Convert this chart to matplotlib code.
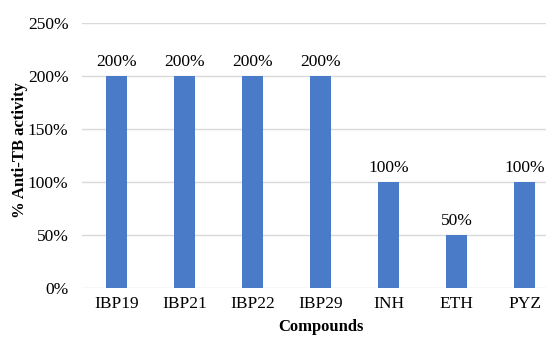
import numpy as np
import matplotlib.pyplot as plt
from matplotlib.ticker import PercentFormatter

compounds = ["IBP19", "IBP21", "IBP22", "IBP29", "INH", "ETH", "PYZ"]
activity = [200, 200, 200, 200, 100, 50, 100]  # % anti-TB activity

plt.rcParams["font.family"] = "Liberation Serif"
plt.rcParams["font.size"] = 12.5

fig = plt.figure(figsize=(5.46, 3.37), dpi=100)
ax = fig.add_axes([0.151, 0.1454, 0.872, 0.7864])

x = np.arange(len(compounds))
bars = ax.bar(x, activity, width=0.31, color="#4a7bc8", zorder=3)
for b, v in zip(bars, activity):
    ax.annotate(f"{v}%", (b.get_x() + b.get_width() / 2, v), xytext=(0, 4),
                textcoords="offset points", ha="center", va="bottom")

ax.set_xlim(-0.5, len(compounds) - 0.5)
ax.set_ylim(0, 250)
ax.set_yticks(range(0, 251, 50))
ax.yaxis.set_major_formatter(PercentFormatter(decimals=0))
ax.set_xticks(x)
ax.set_xticklabels(compounds)
ax.grid(axis="y", color="#d9d9d9", linewidth=1, zorder=0)
for s in ax.spines.values():
    s.set_visible(False)
ax.tick_params(length=0)
ax.tick_params(axis="x", pad=6)
ax.tick_params(axis="y", pad=10)

ax.set_ylabel("% Anti-TB activity", fontweight="bold", fontsize=12)
ax.yaxis.set_label_coords(-0.115, 0.52)
ax.set_xlabel("Compounds", fontweight="bold", fontsize=12)
ax.xaxis.set_label_coords(0.5, -0.118)

fig.savefig("out.png", dpi=100)
